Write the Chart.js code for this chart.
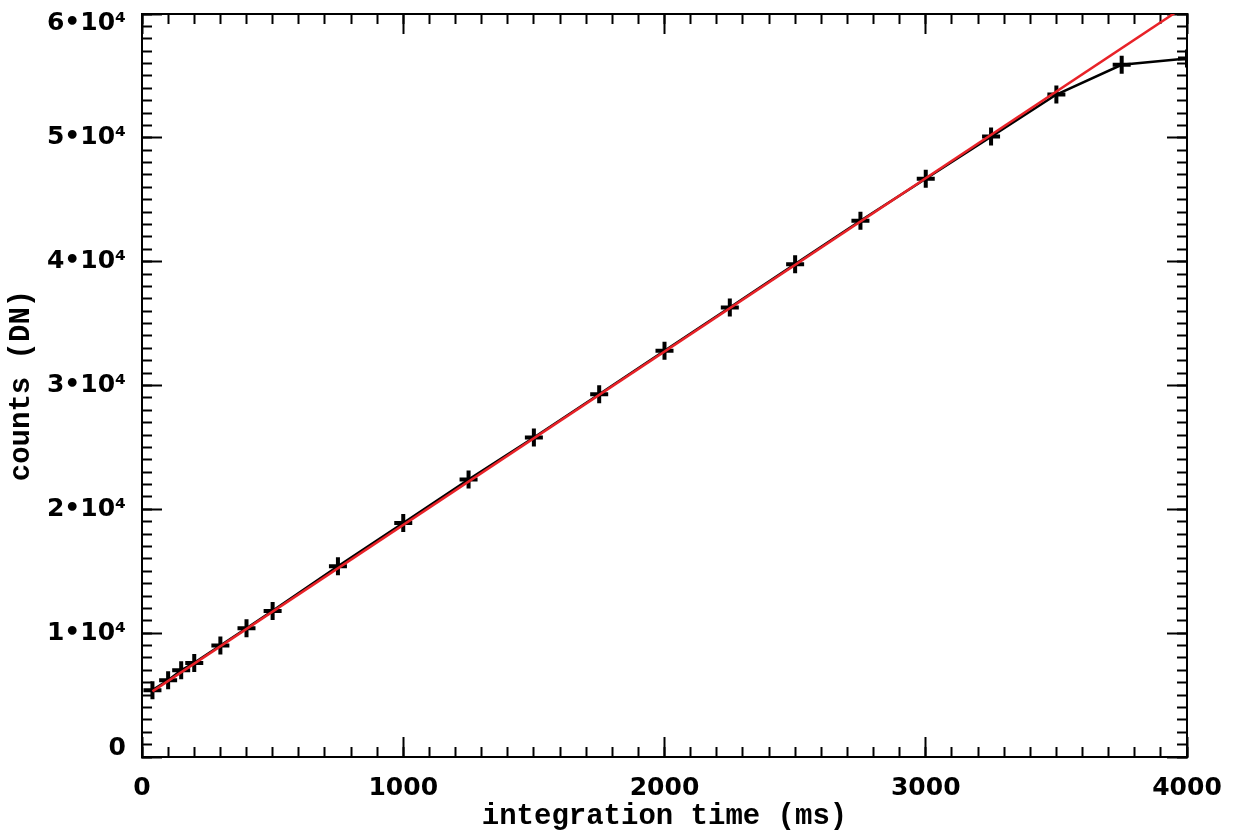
<!DOCTYPE html>
<html>
<head>
<meta charset="utf-8">
<script src="https://cdn.jsdelivr.net/npm/chart.js@4/dist/chart.umd.min.js"></script>
<style>
html,body{margin:0;padding:0;background:#fff;}
#wrap{width:1233px;height:834px;}
</style>
</head>
<body>
<div id="wrap"><canvas id="c" width="1233" height="834"></canvas></div>
<script>
const timesMs = [40,100,150,200,300,400,500,750,1000,1250,1500,1750,2000,2250,2500,2750,3000,3250,3500,3750,4000];
const countsDN = [5400,6200,7000,7600,9000,10400,11800,15400,18900,22400,25800,29300,32800,36300,39800,43300,46700,50100,53500,55900,56400];
const fitX = [40, 4000];
const fitY = [5300, 60740];
const yTickLabels = {0:'0',10000:'1•10⁴',20000:'2•10⁴',30000:'3•10⁴',40000:'4•10⁴',50000:'5•10⁴',60000:'6•10⁴'};

const X_MIN = 0, X_MAX = 4000, Y_MIN = 0, Y_MAX = 60000;
const tickFont = {family:'DejaVu Sans', size:25, weight:'bold'};
const edgeTickFont = {family:'DejaVu Sans', size:25, weight:'bold', lineHeight:'18px'};
const titleFont = {family:'Liberation Mono', size:29, weight:'bold'};

function noPad(s){ s.paddingTop=0; s.paddingBottom=0; s.paddingLeft=0; s.paddingRight=0; }

function minorAxis(pos, axis, step, len){
  const horiz = axis==='x';
  return {
    type:'linear', position:pos, axis:axis,
    min: horiz?X_MIN:Y_MIN, max: horiz?X_MAX:Y_MAX,
    weight:0,
    ticks:{display:false, stepSize:step, autoSkip:false},
    grid:{drawOnChartArea:false, drawTicks:true, tickLength:-len, tickWidth:2, color:'#000'},
    border:{display:false},
    afterFit:(s)=>{ if(horiz) s.height=0; else s.width=0; noPad(s); }
  };
}

const cfg = {
  type:'scatter',
  data:{
    datasets:[
      {
        label:'fit',
        data: fitX.map((x,i)=>({x:x,y:fitY[i]})),
        showLine:true,
        borderColor:'rgb(232,34,40)',
        borderWidth:2.5,
        pointRadius:0,
        xAxisID:'x', yAxisID:'y'
      },
      {
        label:'counts',
        data: timesMs.map((x,i)=>({x:x,y:countsDN[i]})),
        showLine:true,
        borderColor:'#000',
        backgroundColor:'#000',
        borderWidth:2.5,
        pointStyle:'cross',
        pointRadius:9,
        pointBorderWidth:4,
        pointBorderColor:'#000',
        xAxisID:'x', yAxisID:'y'
      }
    ]
  },
  options:{
    responsive:false,
    animation:false,
    layout:{padding:{top:14,right:46,left:0,bottom:0}},
    plugins:{legend:{display:false},tooltip:{enabled:false}},
    scales:{
      x:{
        type:'linear', position:'bottom', min:X_MIN, max:X_MAX, weight:1,
        ticks:{stepSize:1000, autoSkip:false, maxRotation:0, color:'#000', font:tickFont, padding:36,
          callback:(v)=>String(v)},
        grid:{drawOnChartArea:false, tickLength:-20, tickWidth:2, color:'#000'},
        border:{display:true, color:'#000', width:2},
        title:{display:true, text:'integration time (ms)', color:'#000', font:titleFont, padding:{top:0,bottom:0}},
        afterFit:(s)=>{ s.height = 77; noPad(s); }
      },
      xm: minorAxis('bottom','x',100,10),
      xt:{
        type:'linear', position:'top', min:X_MIN, max:X_MAX, weight:1,
        ticks:{display:false, stepSize:1000},
        grid:{drawOnChartArea:false, tickLength:-20, tickWidth:2, color:'#000'},
        border:{display:true, color:'#000', width:2},
        afterFit:(s)=>{ s.height = 0; noPad(s); }
      },
      xtm: minorAxis('top','x',100,10),
      y:{
        type:'linear', position:'left', min:Y_MIN, max:Y_MAX, weight:1,
        ticks:{stepSize:10000, autoSkip:false, color:'#000', padding:36,
          font:(ctx)=> (ctx.tick && (ctx.tick.value===Y_MIN || ctx.tick.value===Y_MAX)) ? edgeTickFont : tickFont,
          callback:(v)=> {
            const t = yTickLabels[v] !== undefined ? yTickLabels[v] : '';
            if (v === Y_MAX) return ['', t];
            if (v === Y_MIN) return [t, ''];
            return t;
          }},
        grid:{drawOnChartArea:false, tickLength:-20, tickWidth:2, color:'#000'},
        border:{display:true, color:'#000', width:2},
        title:{display:true, text:'counts (DN)', color:'#000', font:titleFont, padding:{top:4,bottom:0}},
        afterFit:(s)=>{ s.width = 142; noPad(s); }
      },
      ym: minorAxis('left','y',1000,10),
      yr:{
        type:'linear', position:'right', min:Y_MIN, max:Y_MAX, weight:1,
        ticks:{display:false, stepSize:10000},
        grid:{drawOnChartArea:false, tickLength:-20, tickWidth:2, color:'#000'},
        border:{display:true, color:'#000', width:2},
        afterFit:(s)=>{ s.width = 0; noPad(s); }
      },
      yrm: minorAxis('right','y',1000,10)
    }
  }
};
new Chart(document.getElementById('c'), cfg);
</script>
</body>
</html>
